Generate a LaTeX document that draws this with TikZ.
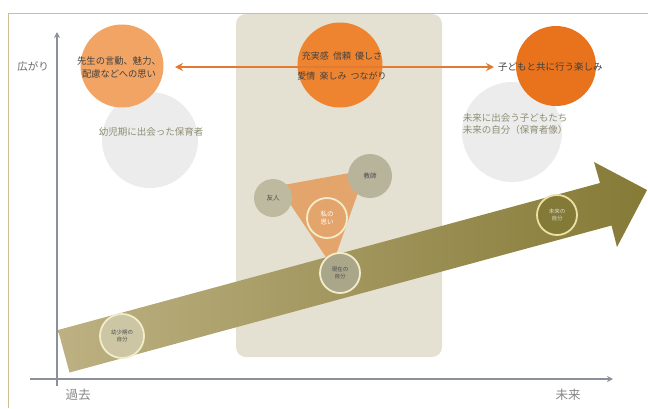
\documentclass[tikz,border=0pt]{standalone}
\usepackage{fontspec}
\newfontfamily\jp{Noto Sans CJK JP}
\usetikzlibrary{arrows.meta}
\definecolor{framec}{HTML}{CDBF92}
\definecolor{panelc}{HTML}{E5E1D2}
\definecolor{greyc}{HTML}{ECECEC}
\definecolor{axisc}{HTML}{8C909A}
\definecolor{orA}{HTML}{F2A464}
\definecolor{orB}{HTML}{EE8430}
\definecolor{orC}{HTML}{E8731C}
\definecolor{arrowor}{HTML}{E27A33}
\definecolor{olL}{HTML}{BDB183}
\definecolor{olR}{HTML}{857A36}
\definecolor{trio}{HTML}{E4A56C}
\definecolor{ringc}{HTML}{F3ECCB}
\definecolor{ringf}{HTML}{ECE0A4}
\definecolor{txt}{HTML}{6A6A6A}
\definecolor{gtxt}{HTML}{8E8E74}
\definecolor{friendc}{HTML}{BEBAA0}
\definecolor{teachc}{HTML}{B7B49B}
\definecolor{nowc}{HTML}{AAA68A}
\definecolor{childc}{HTML}{CDC6A5}
\definecolor{futc}{HTML}{847A38}
\tikzset{
  bigcirc/.style={circle, inner sep=0pt, minimum size=#1},
  lbl/.style={text=txt, font=\jp\fontsize{10.5}{12}\selectfont, inner sep=1pt},
  axlbl/.style={text=txt!80, font=\jp\fontsize{12.5}{14}\selectfont, inner sep=1pt},
  ctext/.style={text=black!75, font=\jp\fontsize{9}{13}\selectfont, align=center, inner sep=1pt},
  gtext/.style={text=gtxt, font=\jp\fontsize{9.5}{12}\selectfont, align=center, inner sep=1pt},
  smallc/.style={circle, inner sep=0pt, minimum size=#1, font=\jp\fontsize{5.5}{7}\selectfont, align=center, text=black!70},
  ringed/.style={draw=ringc, line width=1.8pt},
  axisline/.style={axisc, line width=1.6pt, -{Stealth[length=6pt,width=6pt]}},
}
\begin{document}
\begin{tikzpicture}[x=1pt,y=-1pt]
\useasboundingbox (0,0) rectangle (648,408);
\fill[white] (0,0) rectangle (648,408);
\draw[framec, line width=0.8pt] (648,13) -- (8,13) -- (8,408);
\fill[panelc, rounded corners=10pt] (236,14) rectangle (442,357);

% grey circles
\node[bigcirc=96pt, fill=greyc] (g1) at (150,140) {};
\node[bigcirc=100pt, fill=greyc] (g2) at (512,132) {};

% orange circles
\node[bigcirc=83pt, fill=orA] (o1) at (122,66) {};
\node[bigcirc=85pt, fill=orB] (o2) at (340,65) {};
\node[bigcirc=80pt, fill=orC] (o3) at (556,66) {};

% axes
\coordinate (yb) at (57,386);
\coordinate (yt) at (57,32);
\coordinate (xl) at (30,379);
\coordinate (xr) at (613,379);
\draw[axisline] (yb) -- (yt);
\draw[axisline] (xl) -- (xr);
\node[lbl] (ylab) at (33,66) {広がり};
\node[axlbl] (past) at (78,395) {過去};
\node[axlbl] (fut) at (568,395) {未来};

% big arrow
\shade[left color=olL, right color=olR]
  (58,330) -- (600,183) -- (594,162) -- (647,190) -- (617,247) -- (611.5,225.5) -- (69.5,372.5) -- cycle;

% triangle
\fill[trio, rounded corners=6pt] (278,186) -- (366,170) -- (332,266) -- cycle;

% small circles
\node[smallc=38pt, fill=friendc, font=\jp\fontsize{6.5}{8}\selectfont] (friend) at (273,198) {友人};
\node[smallc=44pt, fill=teachc, font=\jp\fontsize{6.5}{8}\selectfont] (teacher) at (370,176) {教師};
\node[smallc=40pt, fill=trio, ringed, text=white, font=\jp\fontsize{6.5}{8}\selectfont] (self) at (327,218) {私の\\思い};
\node[smallc=40pt, fill=nowc, ringed] (now) at (340,273) {現在の\\自分};
\node[smallc=44pt, fill=childc, ringed] (child) at (122,336) {幼少期の\\自分};
\node[smallc=40pt, fill=futc, ringed, draw=ringf, text=white!85!black] (future) at (557,215) {未来の\\自分};

% double arrow
\coordinate (aL) at (175,67);
\coordinate (aR) at (494,67);
\draw[arrowor, line width=1.8pt, {Stealth[length=8pt,width=8pt]}-{Stealth[length=8pt,width=8pt]}] (aL) -- (aR);

% texts
\node[ctext, font=\jp\fontsize{9.3}{13}\selectfont] (t1) at (119,67) {先生の言動、魅力、\\配慮などへの思い};
\node[ctext] (t2a) at (342,56) {充実感\ \ 信頼\ \ 優しさ};
\node[ctext] (t2b) at (342,76) {愛情\ \ 楽しみ\ \ つながり};
\node[ctext, font=\jp\fontsize{9.5}{12}\selectfont, anchor=west] (t3) at (497,67) {子どもと共に行う楽しみ};
\node[gtext] (t4) at (151,132) {幼児期に出会った保育者};
\node[gtext] (t5) at (515,124) {未来に出会う子どもたち\\未来の自分（保育者像）};
\end{tikzpicture}
\end{document}
